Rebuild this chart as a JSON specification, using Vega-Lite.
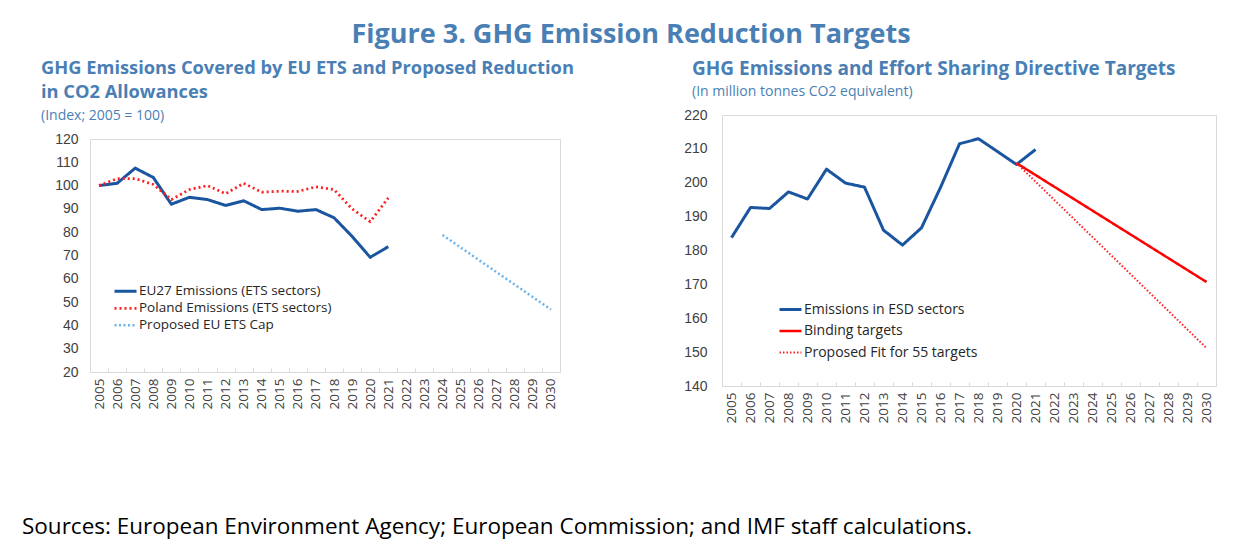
{
  "$schema": "https://vega.github.io/schema/vega-lite/v6.json",
  "background": "white",
  "padding": {"left": 22, "top": 20, "right": 5, "bottom": 0},
  "title": {"text": "Figure 3. GHG Emission Reduction Targets", "anchor": "middle", "font": "Open Sans", "fontSize": 27, "fontWeight": "bold", "color": "#4a7fb5", "offset": 0},
  "config": {
    "view": {"stroke": "#d9d9d9"},
    "font": "Open Sans",
    "axis": {"labelFont": "Liberation Sans", "labelColor": "#404040", "grid": false, "title": null, "domain": false, "ticks": false}
  },
  "datasets": {
    "ets": [
      {"year": "2005", "value": 100, "series": "EU27 Emissions (ETS sectors)"},
      {"year": "2006", "value": 101, "series": "EU27 Emissions (ETS sectors)"},
      {"year": "2007", "value": 107.5, "series": "EU27 Emissions (ETS sectors)"},
      {"year": "2008", "value": 103.5, "series": "EU27 Emissions (ETS sectors)"},
      {"year": "2009", "value": 92, "series": "EU27 Emissions (ETS sectors)"},
      {"year": "2010", "value": 95, "series": "EU27 Emissions (ETS sectors)"},
      {"year": "2011", "value": 94, "series": "EU27 Emissions (ETS sectors)"},
      {"year": "2012", "value": 91.5, "series": "EU27 Emissions (ETS sectors)"},
      {"year": "2013", "value": 93.5, "series": "EU27 Emissions (ETS sectors)"},
      {"year": "2014", "value": 89.7, "series": "EU27 Emissions (ETS sectors)"},
      {"year": "2015", "value": 90.3, "series": "EU27 Emissions (ETS sectors)"},
      {"year": "2016", "value": 89, "series": "EU27 Emissions (ETS sectors)"},
      {"year": "2017", "value": 89.7, "series": "EU27 Emissions (ETS sectors)"},
      {"year": "2018", "value": 86.2, "series": "EU27 Emissions (ETS sectors)"},
      {"year": "2019", "value": 78.2, "series": "EU27 Emissions (ETS sectors)"},
      {"year": "2020", "value": 69.2, "series": "EU27 Emissions (ETS sectors)"},
      {"year": "2021", "value": 73.8, "series": "EU27 Emissions (ETS sectors)"},
      {"year": "2005", "value": 100, "series": "Poland Emissions (ETS sectors)"},
      {"year": "2006", "value": 103, "series": "Poland Emissions (ETS sectors)"},
      {"year": "2007", "value": 103, "series": "Poland Emissions (ETS sectors)"},
      {"year": "2008", "value": 100.5, "series": "Poland Emissions (ETS sectors)"},
      {"year": "2009", "value": 94, "series": "Poland Emissions (ETS sectors)"},
      {"year": "2010", "value": 98.3, "series": "Poland Emissions (ETS sectors)"},
      {"year": "2011", "value": 100, "series": "Poland Emissions (ETS sectors)"},
      {"year": "2012", "value": 96.5, "series": "Poland Emissions (ETS sectors)"},
      {"year": "2013", "value": 101, "series": "Poland Emissions (ETS sectors)"},
      {"year": "2014", "value": 97.2, "series": "Poland Emissions (ETS sectors)"},
      {"year": "2015", "value": 97.6, "series": "Poland Emissions (ETS sectors)"},
      {"year": "2016", "value": 97.5, "series": "Poland Emissions (ETS sectors)"},
      {"year": "2017", "value": 99.5, "series": "Poland Emissions (ETS sectors)"},
      {"year": "2018", "value": 98.3, "series": "Poland Emissions (ETS sectors)"},
      {"year": "2019", "value": 90, "series": "Poland Emissions (ETS sectors)"},
      {"year": "2020", "value": 84.5, "series": "Poland Emissions (ETS sectors)"},
      {"year": "2021", "value": 94.7, "series": "Poland Emissions (ETS sectors)"},
      {"year": "2024", "value": 78.8, "series": "Proposed EU ETS Cap"},
      {"year": "2030", "value": 46.8, "series": "Proposed EU ETS Cap"}
    ],
    "esd": [
      {"year": "2005", "value": 183.8, "series": "Emissions in ESD sectors"},
      {"year": "2006", "value": 192.7, "series": "Emissions in ESD sectors"},
      {"year": "2007", "value": 192.4, "series": "Emissions in ESD sectors"},
      {"year": "2008", "value": 197.3, "series": "Emissions in ESD sectors"},
      {"year": "2009", "value": 195.2, "series": "Emissions in ESD sectors"},
      {"year": "2010", "value": 204, "series": "Emissions in ESD sectors"},
      {"year": "2011", "value": 199.9, "series": "Emissions in ESD sectors"},
      {"year": "2012", "value": 198.7, "series": "Emissions in ESD sectors"},
      {"year": "2013", "value": 186, "series": "Emissions in ESD sectors"},
      {"year": "2014", "value": 181.6, "series": "Emissions in ESD sectors"},
      {"year": "2015", "value": 186.7, "series": "Emissions in ESD sectors"},
      {"year": "2016", "value": 198.6, "series": "Emissions in ESD sectors"},
      {"year": "2017", "value": 211.5, "series": "Emissions in ESD sectors"},
      {"year": "2018", "value": 213, "series": "Emissions in ESD sectors"},
      {"year": "2019", "value": 209.2, "series": "Emissions in ESD sectors"},
      {"year": "2020", "value": 205.4, "series": "Emissions in ESD sectors"},
      {"year": "2021", "value": 209.8, "series": "Emissions in ESD sectors"},
      {"year": "2020", "value": 205.8, "series": "Binding targets"},
      {"year": "2030", "value": 170.7, "series": "Binding targets"},
      {"year": "2020", "value": 205.8, "series": "Proposed Fit for 55 targets"},
      {"year": "2030", "value": 151.2, "series": "Proposed Fit for 55 targets"}
    ],
    "blank": [{"s": ""}]
  },
  "vconcat": [
    {
      "hconcat": [
        {
          "vconcat": [
            {
              "width": 470,
              "height": 1,
              "view": {"stroke": null},
              "data": {"name": "blank"},
              "mark": {"type": "text"},
              "encoding": {"text": {"field": "s", "type": "nominal"}},
              "title": {"text": ["GHG Emissions Covered by EU ETS and Proposed Reduction", "in CO2 Allowances"], "subtitle": "(Index; 2005 = 100)", "orient": "bottom", "anchor": "start", "font": "Open Sans", "fontSize": 18.3, "fontWeight": "bold", "color": "#4a7fb5", "lineHeight": 24, "subtitleFont": "Open Sans", "subtitleFontSize": 14, "subtitleColor": "#4a7fb5", "subtitlePadding": 7, "offset": 0, "dx": -49}
            },
            {
              "width": 470,
              "height": 233,
              "data": {"name": "ets"},
              "mark": {"type": "line", "strokeJoin": "round"},
              "encoding": {
                "x": {"field": "year", "type": "ordinal", "scale": {"type": "band", "domain": ["2005","2006","2007","2008","2009","2010","2011","2012","2013","2014","2015","2016","2017","2018","2019","2020","2021","2022","2023","2024","2025","2026","2027","2028","2029","2030"], "paddingInner": 0, "paddingOuter": 0}, "axis": {"labelAngle": -90, "labelFont": "Open Sans", "labelFontSize": 13.5, "ticks": true, "tickBand": "extent", "tickSize": -4, "tickColor": "#d9d9d9", "labelPadding": 10, "labelBaseline": "middle", "labelAlign": "right"}},
                "y": {"field": "value", "type": "quantitative", "scale": {"domain": [20, 120], "nice": false, "zero": false}, "axis": {"values": [20,30,40,50,60,70,80,90,100,110,120], "labelFontSize": 14, "labelPadding": 12}},
                "color": {"field": "series", "type": "nominal", "scale": {"domain": ["EU27 Emissions (ETS sectors)", "Poland Emissions (ETS sectors)", "Proposed EU ETS Cap"], "range": ["#1a55a0", "#ff1f1f", "#6cb4ec"]}, "legend": {"title": null, "orient": "none", "legendX": 23, "legendY": 145, "symbolType": "stroke", "symbolSize": 484, "clipHeight": 14.5, "rowPadding": 2, "labelFont": "Open Sans", "labelFontSize": 13.5, "labelColor": "#262626", "labelOffset": 1, "labelLimit": 400}},
                "strokeDash": {"field": "series", "type": "nominal", "scale": {"domain": ["EU27 Emissions (ETS sectors)", "Poland Emissions (ETS sectors)", "Proposed EU ETS Cap"], "range": [[1, 0], [2, 3], [2, 2.5]]}, "legend": {"title": null, "orient": "none", "legendX": 23, "legendY": 145, "symbolType": "stroke", "symbolSize": 484, "clipHeight": 14.5, "rowPadding": 2, "labelFont": "Open Sans", "labelFontSize": 13.5, "labelColor": "#262626", "labelOffset": 1, "labelLimit": 400}},
                "strokeWidth": {"field": "series", "type": "nominal", "scale": {"domain": ["EU27 Emissions (ETS sectors)", "Poland Emissions (ETS sectors)", "Proposed EU ETS Cap"], "range": [3, 2.5, 2.5]}, "legend": {"title": null, "orient": "none", "legendX": 23, "legendY": 145, "symbolType": "stroke", "symbolSize": 484, "clipHeight": 14.5, "rowPadding": 2, "labelFont": "Open Sans", "labelFontSize": 13.5, "labelColor": "#262626", "labelOffset": 1, "labelLimit": 400}}
              }
            }
          ],
          "spacing": 8,
          "resolve": {"scale": {"color": "independent", "strokeDash": "independent", "strokeWidth": "independent", "x": "independent", "y": "independent"}, "legend": {"color": "independent", "strokeDash": "independent", "strokeWidth": "independent"}}
        },
        {
          "vconcat": [
            {
              "width": 494,
              "height": 1,
              "view": {"stroke": null},
              "data": {"name": "blank"},
              "mark": {"type": "text"},
              "encoding": {"text": {"field": "s", "type": "nominal"}},
              "title": {"text": "GHG Emissions and Effort Sharing Directive Targets", "subtitle": "(In million tonnes CO2 equivalent)", "orient": "bottom", "anchor": "start", "font": "Open Sans", "fontSize": 19, "fontWeight": "bold", "color": "#4a7fb5", "lineHeight": 24, "subtitleFont": "Open Sans", "subtitleFontSize": 14, "subtitleColor": "#4a7fb5", "subtitlePadding": 6, "offset": 0, "dx": -30}
            },
            {
              "width": 494,
              "height": 271,
              "data": {"name": "esd"},
              "mark": {"type": "line", "strokeJoin": "round"},
              "encoding": {
                "x": {"field": "year", "type": "ordinal", "scale": {"type": "band", "domain": ["2005","2006","2007","2008","2009","2010","2011","2012","2013","2014","2015","2016","2017","2018","2019","2020","2021","2022","2023","2024","2025","2026","2027","2028","2029","2030"], "paddingInner": 0, "paddingOuter": 0}, "axis": {"labelAngle": -90, "labelFont": "Open Sans", "labelFontSize": 13.5, "ticks": true, "tickBand": "extent", "tickSize": -4, "tickColor": "#d9d9d9", "labelPadding": 10, "labelBaseline": "middle", "labelAlign": "right"}},
                "y": {"field": "value", "type": "quantitative", "scale": {"domain": [140, 220], "nice": false, "zero": false}, "axis": {"values": [140,150,160,170,180,190,200,210,220], "labelFontSize": 14, "labelPadding": 15}},
                "color": {"field": "series", "type": "nominal", "scale": {"domain": ["Emissions in ESD sectors", "Binding targets", "Proposed Fit for 55 targets"], "range": ["#1a55a0", "#ff0000", "#ff1f1f"]}, "legend": {"title": null, "orient": "none", "legendX": 56, "legendY": 185, "symbolType": "stroke", "symbolSize": 484, "clipHeight": 19, "rowPadding": 2.5, "labelFont": "Open Sans", "labelFontSize": 14, "labelColor": "#262626", "labelOffset": 1, "labelLimit": 400}},
                "strokeDash": {"field": "series", "type": "nominal", "scale": {"domain": ["Emissions in ESD sectors", "Binding targets", "Proposed Fit for 55 targets"], "range": [[1, 0], [1, 0], [1.5, 2]]}, "legend": {"title": null, "orient": "none", "legendX": 56, "legendY": 185, "symbolType": "stroke", "symbolSize": 484, "clipHeight": 19, "rowPadding": 2.5, "labelFont": "Open Sans", "labelFontSize": 14, "labelColor": "#262626", "labelOffset": 1, "labelLimit": 400}},
                "strokeWidth": {"field": "series", "type": "nominal", "scale": {"domain": ["Emissions in ESD sectors", "Binding targets", "Proposed Fit for 55 targets"], "range": [3, 2, 1.5]}, "legend": {"title": null, "orient": "none", "legendX": 56, "legendY": 185, "symbolType": "stroke", "symbolSize": 484, "clipHeight": 19, "rowPadding": 2.5, "labelFont": "Open Sans", "labelFontSize": 14, "labelColor": "#262626", "labelOffset": 1, "labelLimit": 400}}
              }
            }
          ],
          "spacing": 8,
          "resolve": {"scale": {"color": "independent", "strokeDash": "independent", "strokeWidth": "independent", "x": "independent", "y": "independent"}, "legend": {"color": "independent", "strokeDash": "independent", "strokeWidth": "independent"}}
        }
      ],
      "spacing": 109,
      "resolve": {"scale": {"color": "independent", "strokeDash": "independent", "strokeWidth": "independent", "x": "independent", "y": "independent"}, "legend": {"color": "independent", "strokeDash": "independent", "strokeWidth": "independent"}}
    },
    {
      "width": 1150,
      "height": 1,
      "view": {"stroke": null},
      "data": {"name": "blank"},
      "mark": {"type": "text"},
      "encoding": {"text": {"field": "s", "type": "nominal"}},
      "title": {"text": "Sources: European Environment Agency; European Commission; and IMF staff calculations.", "anchor": "start", "font": "Open Sans", "fontSize": 22.5, "fontWeight": "normal", "color": "#000000", "dx": -68, "offset": 0}
    }
  ],
  "spacing": 92
}
